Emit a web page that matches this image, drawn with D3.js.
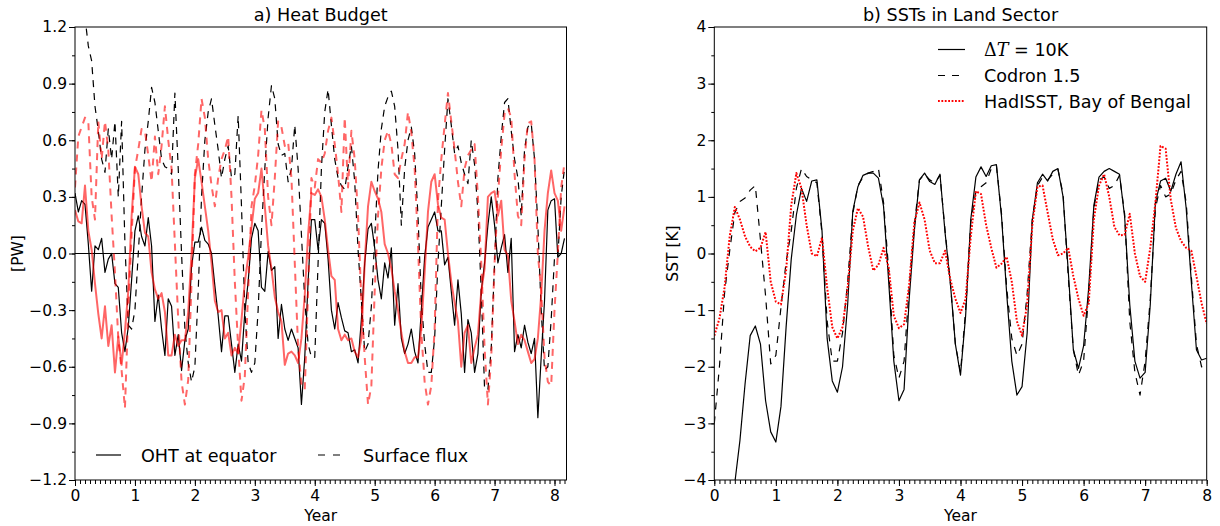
<!DOCTYPE html>
<html>
<head>
<meta charset="utf-8">
<script src="https://cdn.jsdelivr.net/npm/d3@7"></script>
<style>
  body { margin: 0; background: #fff; }
  svg { font-family: "DejaVu Sans", sans-serif; }
</style>
</head>
<body>
<svg id="fig" width="1220" height="526"></svg>
<script>
// ---- data -------------------------------------------------------------
// Heat budget series, sampled every 1/18 year starting at year 0 [PW]
const budgetStep = 1 / 18;
const ohtEquator = [
  0.32, 0.22, 0.28, 0.26, 0.05, -0.20, 0.04, 0.02, 0.08, -0.10, -0.03, 0.00, -0.16, -0.18, -0.42, -0.52, -0.39, -0.14,
  0.12, 0.20, 0.09, 0.04, 0.19, 0.04, -0.36, -0.22, -0.40, -0.54, -0.24, -0.28, -0.54, -0.43, -0.62, -0.46, -0.40, -0.07,
  0.06, 0.06, 0.14, 0.07, 0.05, 0.00, -0.17, -0.33, -0.52, -0.33, -0.33, -0.48, -0.63, -0.48, -0.57, -0.31, -0.15, 0.08,
  0.16, 0.12, -0.18, -0.20, 0.01, -0.09, -0.07, -0.45, -0.27, -0.40, -0.46, -0.40, -0.45, -0.50, -0.80, -0.55, -0.15, 0.18,
  0.18, 0.02, 0.18, 0.16, -0.03, -0.30, -0.40, -0.26, -0.34, -0.41, -0.42, -0.52, -0.51, -0.58, -0.35, -0.05, 0.13, 0.16,
  0.03, -0.14, -0.24, -0.05, -0.13, 0.03, -0.38, -0.16, -0.45, -0.53, -0.48, -0.40, -0.52, -0.58, -0.30, -0.02, 0.14, 0.18,
  0.22, 0.12, 0.12, -0.06, -0.02, -0.20, -0.38, -0.14, -0.32, -0.63, -0.35, -0.42, -0.63, -0.53, -0.20, -0.05, 0.15, 0.30,
  0.15, -0.05, 0.03, 0.10, -0.10, 0.08, -0.52, -0.43, -0.50, -0.38, -0.47, -0.53, -0.45, -0.87, -0.55, -0.25, 0.23, 0.28,
  0.29, -0.02, 0.00, 0.08
];
const ohtEquatorAlt = [
  0.23, 0.17, 0.16, 0.36, 0.12, 0.02, -0.16, -0.32, -0.45, -0.28, -0.49, -0.38, -0.63, -0.44, -0.59, -0.41, -0.20, 0.20,
  0.46, 0.42, 0.25, 0.11, 0.09, -0.10, -0.19, -0.24, -0.21, -0.31, -0.54, -0.54, -0.43, -0.49, -0.46, -0.46, -0.31, 0.00,
  0.40, 0.50, 0.38, 0.25, 0.12, -0.05, -0.25, -0.31, -0.30, -0.45, -0.42, -0.54, -0.50, -0.53, -0.35, -0.15, -0.02, 0.14,
  0.29, 0.32, 0.45, 0.25, 0.04, -0.08, -0.23, -0.31, -0.36, -0.59, -0.53, -0.52, -0.54, -0.58, -0.45, -0.22, 0.10, 0.32,
  0.31, 0.34, 0.30, 0.18, 0.02, -0.12, -0.14, -0.40, -0.46, -0.43, -0.46, -0.45, -0.52, -0.55, -0.45, -0.05, 0.25, 0.38,
  0.33, 0.29, 0.22, 0.05, 0.00, -0.08, -0.20, -0.30, -0.42, -0.52, -0.58, -0.58, -0.55, -0.55, -0.40, -0.10, 0.22, 0.38,
  0.42, 0.26, 0.19, 0.18, 0.00, -0.15, -0.26, -0.36, -0.60, -0.42, -0.38, -0.58, -0.50, -0.43, -0.20, -0.08, 0.30, 0.32,
  0.33, 0.20, 0.28, 0.02, -0.01, -0.25, -0.36, -0.48, -0.43, -0.46, -0.52, -0.58, -0.56, -0.45, -0.22, 0.12, 0.32, 0.44,
  0.32, 0.28, 0.12, 0.25
];
const surfaceFlux = [
  1.60, 1.50, 1.40, 1.25, 1.10, 1.02, 0.78, 0.65, 0.50, 0.43, 0.66, 0.50, 0.70, 0.30, 0.70, 0.05, -0.38, -0.40,
  -0.30, 0.00, 0.30, 0.55, 0.70, 0.88, 0.80, 0.65, 0.50, 0.46, 0.45, 0.42, 0.85, 0.45, 0.00, -0.40, -0.58, -0.68,
  -0.60, -0.20, 0.30, 0.60, 0.75, 0.82, 0.68, 0.55, 0.40, 0.50, 0.57, 0.40, 0.42, 0.73, 0.25, -0.30, -0.58, -0.63,
  -0.58, -0.30, 0.12, 0.45, 0.72, 0.89, 0.82, 0.58, 0.52, 0.53, 0.38, 0.45, 0.68, 0.45, 0.10, -0.25, -0.48, -0.55,
  -0.55, -0.05, 0.45, 0.75, 0.87, 0.68, 0.50, 0.40, 0.36, 0.34, 0.46, 0.57, 0.38, 0.02, -0.25, -0.52, -0.48, -0.28,
  0.08, 0.44, 0.66, 0.78, 0.83, 0.86, 0.78, 0.55, 0.15, 0.45, 0.60, 0.67, 0.53, 0.20, -0.25, -0.48, -0.63, -0.63,
  -0.45, -0.05, 0.25, 0.55, 0.82, 0.68, 0.53, 0.57, 0.48, 0.42, 0.37, 0.60, 0.47, 0.22, -0.20, -0.72, -0.72, -0.50,
  -0.05, 0.40, 0.62, 0.80, 0.82, 0.65, 0.50, 0.40, 0.20, 0.55, 0.67, 0.69, 0.50, 0.15, -0.30, -0.62, -0.60, -0.35,
  -0.02, -0.02, 0.30, 0.45
];
const surfaceFluxAlt = [
  0.35, 0.62, 0.67, 0.72, 0.70, 0.30, 0.18, 0.70, 0.50, 0.70, 0.55, 0.20, -0.10, -0.45, -0.62, -0.82, -0.30, 0.10,
  0.45, 0.55, 0.66, 0.65, 0.52, 0.38, 0.62, 0.42, 0.57, 0.78, 0.60, 0.45, 0.05, -0.35, -0.68, -0.80, -0.67, -0.15,
  0.42, 0.58, 0.82, 0.72, 0.50, 0.36, 0.25, 0.40, 0.50, 0.55, 0.62, 0.30, -0.15, -0.50, -0.78, -0.65, -0.20, 0.25,
  0.36, 0.52, 0.76, 0.66, 0.30, 0.15, 0.40, 0.70, 0.67, 0.57, 0.59, 0.40, -0.05, -0.50, -0.69, -0.72, -0.20, 0.40,
  0.35, 0.50, 0.48, 0.53, 0.65, 0.72, 0.58, 0.42, 0.22, 0.72, 0.35, 0.65, 0.50, 0.20, -0.25, -0.55, -0.80, -0.70,
  -0.20, 0.20, 0.45, 0.60, 0.65, 0.58, 0.42, 0.40, 0.50, 0.58, 0.75, 0.64, 0.45, 0.05, -0.42, -0.68, -0.80, -0.70,
  -0.40, 0.28, 0.50, 0.68, 0.85, 0.70, 0.55, 0.38, 0.25, 0.45, 0.52, 0.55, 0.58, 0.30, -0.05, -0.50, -0.80, -0.55,
  -0.05, 0.30, 0.55, 0.74, 0.77, 0.72, 0.42, 0.20, 0.15, 0.50, 0.69, 0.70, 0.50, 0.00, -0.20, -0.55, -0.68, -0.70,
  -0.30, 0.00, 0.35, 0.48
];

// Land-sector SST anomalies, monthly from year 0 [K]
const sstStep = 1 / 12;
const sstDeltaT10 = [
  -7.00, -6.30, -5.50, -4.70, -4.05, -3.30, -2.30, -1.45, -1.28, -1.60, -2.60, -3.15,
  -3.33, -2.70, -1.30, -0.10, 0.68, 1.15, 0.92, 1.28, 1.30, 0.40, -1.50, -2.25,
  -2.45, -2.00, -0.90, 0.75, 1.18, 1.38, 1.42, 1.42, 1.33, 0.83, -0.50, -1.90,
  -2.60, -2.40, -0.80, 0.40, 1.30, 1.42, 1.27, 1.22, 1.40, 0.36, -0.50, -1.60,
  -2.15, -1.10, 0.60, 1.35, 1.53, 1.36, 1.55, 1.57, 0.65, -0.70, -1.90, -2.50,
  -2.35, -1.40, 0.60, 1.25, 1.40, 1.28, 1.45, 1.50, 1.00, -0.30, -1.70, -2.03,
  -1.63, -0.60, 0.85, 1.35, 1.45, 1.50, 1.45, 1.40, 0.65, -0.90, -1.90, -2.20,
  -2.10, -0.90, 0.90, 1.28, 1.33, 1.10, 1.40, 1.62, 0.80, -0.50, -1.70, -1.88,
  -1.85
];
const sstCodron = [
  -3.00, -2.00, -0.70, 0.05, 0.72, 0.92, 0.98, 1.12, 1.20, 0.24, -0.75, -1.95,
  -1.80, -0.95, -0.15, 0.40, 1.15, 1.50, 1.36, 1.30, 1.25, 0.35, -1.20, -1.90,
  -1.90, -1.40, -0.50, 0.70, 1.20, 1.35, 1.42, 1.45, 1.50, 0.90, -0.30, -1.80,
  -2.20, -1.90, -0.60, 0.50, 1.30, 1.40, 1.30, 1.25, 1.38, 0.40, -0.50, -1.60,
  -2.10, -1.00, 0.55, 1.10, 1.18, 1.25, 1.50, 1.55, 0.70, -0.60, -1.50, -1.80,
  -1.60, -0.70, 0.60, 1.20, 1.35, 1.30, 1.40, 1.48, 1.05, -0.40, -1.70, -2.15,
  -1.90, -0.70, 0.80, 1.30, 1.35, 1.15, 1.20, 1.38, 0.70, -1.20, -2.10, -2.50,
  -1.90, -0.80, 0.80, 1.20, 1.00, 1.05, 1.30, 1.45, 0.90, -0.40, -1.60, -2.00,
  -2.05
];
const sstHadISST = [
  -1.45, -1.15, -0.60, 0.30, 0.82, 0.60, 0.30, 0.12, 0.04, 0.10, 0.38, -0.50,
  -0.85, -0.90, -0.30, 0.85, 1.42, 1.15, 0.50, 0.00, -0.05, 0.28, -0.60, -1.30,
  -1.50, -1.30, -0.60, 0.40, 0.80, 0.65, 0.12, -0.30, -0.20, 0.10, -0.25, -1.10,
  -1.32, -1.25, -0.55, 0.55, 0.90, 0.60, 0.05, -0.17, -0.17, 0.05, -0.45, -0.80,
  -1.05, -0.80, 0.30, 1.10, 1.05, 0.50, 0.10, -0.25, -0.18, -0.06, -0.50, -1.20,
  -1.45, -0.90, 0.50, 1.18, 1.20, 0.72, 0.25, -0.03, 0.00, 0.10, -0.40, -0.80,
  -1.10, -0.88, 0.60, 1.20, 1.40, 1.00, 0.47, 0.32, 0.33, 0.70, 0.00, -0.40,
  -0.50, 0.10, 0.90, 1.90, 1.85, 0.95, 0.45, 0.22, 0.10, 0.05, -0.40, -0.88,
  -1.24
];

// Tick values
const yearTicks = [0, 1, 2, 3, 4, 5, 6, 7, 8];
const pwTicks = [-1.2, -0.9, -0.6, -0.3, 0.0, 0.3, 0.6, 0.9, 1.2];
const sstTicks = [-4, -3, -2, -1, 0, 1, 2, 3, 4];

// ---- drawing ----------------------------------------------------------
const svg = d3.select("#fig");
const minus = s => s.replace("-", "\u2212");

const FONT_TICK = 15.5;
const FONT_LABEL = 15.5;
const FONT_TITLE = 17.6;
const FONT_LEGEND = 17.6;

function drawPanel(o) {
  const x = d3.scaleLinear().domain(o.xDomain).range([o.left, o.right]);
  const y = d3.scaleLinear().domain(o.yDomain).range([o.bottom, o.top]);
  const g = svg.append("g");

  const clipId = "clip-" + o.id;
  svg.append("clipPath").attr("id", clipId)
    .append("rect")
    .attr("x", o.left).attr("y", o.top)
    .attr("width", o.right - o.left).attr("height", o.bottom - o.top);

  // minor ticks: monthly on x, half steps on y
  const xMinor = d3.range(0, o.xDomain[1] + 1e-9, 1 / 12);
  g.append("g").attr("transform", `translate(0,${o.bottom})`)
    .call(d3.axisBottom(x).tickValues(xMinor).tickSize(4).tickSizeOuter(0).tickFormat(""))
    .call(a => a.select(".domain").remove());
  g.append("g").attr("transform", `translate(${o.left},0)`)
    .call(d3.axisLeft(y).tickValues(o.yMinor).tickSize(3).tickSizeOuter(0).tickFormat(""))
    .call(a => a.select(".domain").remove());

  // major ticks with labels
  const xAxis = g.append("g").attr("transform", `translate(0,${o.bottom})`)
    .call(d3.axisBottom(x).tickValues(yearTicks).tickSize(6).tickPadding(4).tickSizeOuter(0)
      .tickFormat(d3.format("d")));
  xAxis.select(".domain").remove();
  const yAxis = g.append("g").attr("transform", `translate(${o.left},0)`)
    .call(d3.axisLeft(y).tickValues(o.yTicks).tickSize(6).tickPadding(2).tickSizeOuter(0)
      .tickFormat(d => minus(o.yFormat(d))));
  yAxis.select(".domain").remove();
  g.selectAll(".tick text").attr("font-size", FONT_TICK).attr("font-family", "DejaVu Sans").attr("fill", "#000");
  g.selectAll(".tick line").attr("stroke", "#000").attr("stroke-width", 1);

  const plot = svg.append("g").attr("clip-path", `url(#${clipId})`);

  if (o.zeroLine) {
    plot.append("line")
      .attr("x1", o.left).attr("x2", o.right)
      .attr("y1", y(0)).attr("y2", y(0))
      .attr("stroke", "#000").attr("stroke-width", 1.2);
  }

  o.series.forEach(s => {
    const line = d3.line()
      .x((d, i) => x(i * s.step))
      .y(d => y(d));
    plot.append("path")
      .datum(s.values)
      .attr("d", line)
      .attr("fill", "none")
      .attr("stroke", s.color)
      .attr("stroke-opacity", s.opacity || 1)
      .attr("stroke-width", s.width)
      .attr("stroke-dasharray", s.dash || null)
      .attr("stroke-linejoin", "round");
  });

  // frame
  svg.append("rect")
    .attr("x", o.left).attr("y", o.top)
    .attr("width", o.right - o.left).attr("height", o.bottom - o.top)
    .attr("fill", "none").attr("stroke", "#000").attr("stroke-width", 1);

  // title and axis labels
  svg.append("text")
    .attr("x", (o.left + o.right) / 2).attr("y", 21)
    .attr("text-anchor", "middle").attr("font-size", FONT_TITLE)
    .text(o.title);
  svg.append("text")
    .attr("x", (o.left + o.right) / 2).attr("y", 521)
    .attr("text-anchor", "middle").attr("font-size", FONT_LABEL)
    .text("Year");
  svg.append("text")
    .attr("transform", `translate(${o.yLabelX},${(o.top + o.bottom) / 2}) rotate(-90)`)
    .attr("text-anchor", "middle").attr("dominant-baseline", "central")
    .attr("font-size", FONT_LABEL)
    .text(o.yLabel);

  return { x, y };
}

const black = "#000";
const red = "#ff0000";

// a) Heat budget
drawPanel({
  id: "a", left: 75, right: 566.5, top: 27, bottom: 480,
  xDomain: [0, 8.2], yDomain: [-1.2, 1.2],
  yTicks: pwTicks, yMinor: d3.range(-8, 9).map(k => k * 0.15),
  yFormat: d3.format(".1f"),
  zeroLine: true,
  title: "a) Heat Budget", yLabel: "[PW]", yLabelX: 17.5,
  series: [
    { values: ohtEquator, step: budgetStep, color: black, width: 1.2 },
    { values: surfaceFlux, step: budgetStep, color: black, width: 1.2, dash: "7,6" },
    { values: ohtEquatorAlt, step: budgetStep, color: red, opacity: 0.6, width: 2 },
    { values: surfaceFluxAlt, step: budgetStep, color: red, opacity: 0.6, width: 2, dash: "7,6" }
  ]
});

// b) SSTs in the land sector
drawPanel({
  id: "b", left: 714.3, right: 1206.7, top: 27, bottom: 480,
  xDomain: [0, 8], yDomain: [-4, 4],
  yTicks: sstTicks, yMinor: d3.range(-8, 9).map(k => k * 0.5),
  yFormat: d3.format("d"),
  zeroLine: false,
  title: "b) SSTs in Land Sector", yLabel: "SST [K]", yLabelX: 672.5,
  series: [
    { values: sstDeltaT10, step: sstStep, color: black, width: 1.2 },
    { values: sstCodron, step: sstStep, color: black, width: 1.2, dash: "7,7" },
    { values: sstHadISST, step: sstStep, color: red, width: 2, dash: "1.8,1.6" }
  ]
});

// ---- legends ----------------------------------------------------------
function legendEntry(x1, x2, y, style, label, textX) {
  svg.append("line")
    .attr("x1", x1).attr("x2", x2).attr("y1", y).attr("y2", y)
    .attr("stroke", style.color).attr("stroke-width", style.width)
    .attr("stroke-dasharray", style.dash || null);
  const t = svg.append("text")
    .attr("x", textX).attr("y", y + 6.8)
    .attr("font-size", FONT_LEGEND);
  if (typeof label === "string") t.text(label);
  else label(t);
}

legendEntry(96, 121, 455, { color: black, width: 1.2 }, "OHT at equator", 141);
legendEntry(318, 341, 455, { color: black, width: 1.2, dash: "7,8" }, "Surface flux", 363);

legendEntry(938, 965, 49.5, { color: black, width: 1.2 }, t => {
  t.append("tspan").attr("font-family", "DejaVu Serif").text("\u0394");
  t.append("tspan").attr("font-family", "DejaVu Serif").attr("font-style", "italic").text("T");
  t.append("tspan").text(" = 10K");
}, 984);
legendEntry(938, 965, 75.5, { color: black, width: 1.2, dash: "7,7" }, "Codron 1.5", 984);
legendEntry(938, 965, 101, { color: red, width: 2, dash: "1.8,1.6" }, "HadISST, Bay of Bengal", 984);
</script>
</body>
</html>
